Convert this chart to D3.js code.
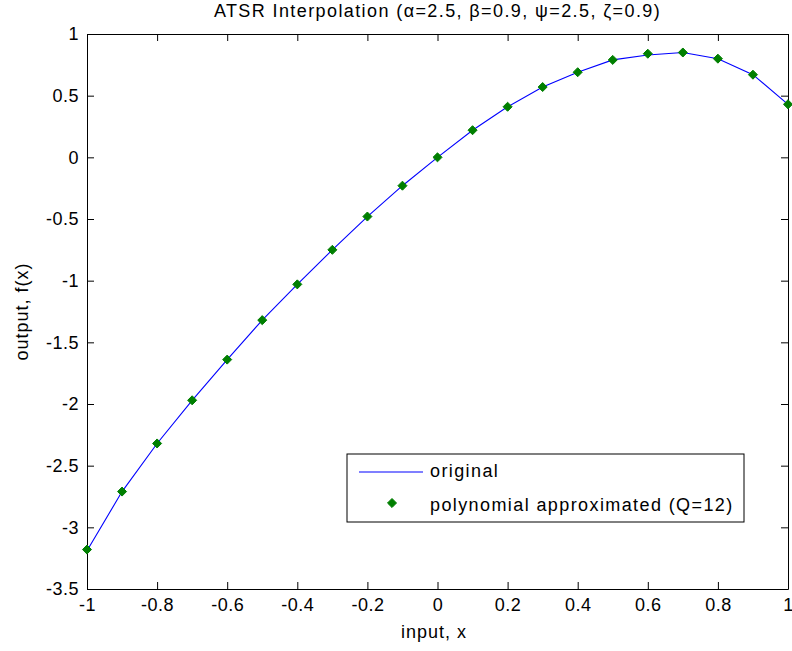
<!DOCTYPE html>
<html>
<head>
<meta charset="utf-8">
<script src="https://cdn.jsdelivr.net/npm/d3@7"></script>
<style>
  body { margin: 0; background: #fff; }
  svg text { font-family: "Liberation Sans", Arial, sans-serif; fill: #000; }
</style>
</head>
<body>
<div id="chart"></div>
<script>
// sample points
const xs = [-1, -0.9, -0.8, -0.7, -0.6, -0.5, -0.4, -0.3, -0.2, -0.1, 0,
            0.1, 0.2, 0.3, 0.4, 0.5, 0.6, 0.7, 0.8, 0.9, 1];
// original function
const original = [-3.19, -2.71, -2.32, -1.97, -1.64, -1.32, -1.03, -0.75, -0.48, -0.23, 0.0,
                  0.22, 0.41, 0.57, 0.69, 0.79, 0.83, 0.85, 0.80, 0.67, 0.43];
// polynomial approximation (Q=12)
const approx = [-3.18, -2.71, -2.32, -1.97, -1.64, -1.32, -1.03, -0.75, -0.48, -0.23, 0.0,
                0.22, 0.41, 0.57, 0.69, 0.79, 0.84, 0.85, 0.80, 0.67, 0.43];

const xTicks = [-1, -0.8, -0.6, -0.4, -0.2, 0, 0.2, 0.4, 0.6, 0.8, 1];
const yTicks = [-3.5, -3, -2.5, -2, -1.5, -1, -0.5, 0, 0.5, 1];

const width = 792, height = 651;
const margin = { left: 87, right: 4, top: 34, bottom: 62 };

const svg = d3.select("#chart").append("svg")
  .attr("width", width)
  .attr("height", height);

const x = d3.scaleLinear().domain([-1, 1]).range([margin.left, width - margin.right]);
const y = d3.scaleLinear().domain([-3.5, 1]).range([height - margin.bottom, margin.top]);

const fmt = d => String(d);

// axes, ticks pointing inward (box on all four sides)
svg.append("g")
  .attr("transform", `translate(0,${y(-3.5)})`)
  .call(d3.axisBottom(x).tickValues(xTicks).tickSizeInner(-7).tickSizeOuter(0).tickPadding(9).tickFormat(fmt));
svg.append("g")
  .attr("transform", `translate(0,${y(1)})`)
  .call(d3.axisTop(x).tickValues(xTicks).tickSizeInner(-7).tickSizeOuter(0).tickFormat(""));
svg.append("g")
  .attr("transform", `translate(${x(-1)},0)`)
  .call(d3.axisLeft(y).tickValues(yTicks).tickSizeInner(-7).tickSizeOuter(0).tickPadding(8).tickFormat(fmt));
svg.append("g")
  .attr("transform", `translate(${x(1)},0)`)
  .call(d3.axisRight(y).tickValues(yTicks).tickSizeInner(-7).tickSizeOuter(0).tickFormat(""));

svg.selectAll(".domain").attr("stroke", "#000").attr("stroke-width", 1);
svg.selectAll(".tick line").attr("stroke", "#000");
svg.selectAll(".tick text").style("font-size", "18px").style("letter-spacing", "0.5px");

// original curve
const line = d3.line().x((d, i) => x(xs[i])).y(d => y(d));
svg.append("path")
  .datum(original)
  .attr("fill", "none")
  .attr("stroke", "#0000ff")
  .attr("stroke-width", 1.1)
  .attr("d", line);

// approximation markers
const diamond = d3.symbol().type(d3.symbolDiamond2).size(52);
svg.append("g").selectAll("path")
  .data(approx)
  .enter().append("path")
  .attr("transform", (d, i) => `translate(${x(xs[i])},${y(d)})`)
  .attr("d", diamond)
  .attr("fill", "#007f00")
  .attr("stroke", "#007f00")
  .attr("stroke-width", 1);

// title and labels
svg.append("text")
  .attr("x", x(0)).attr("y", 17)
  .attr("text-anchor", "middle")
  .style("font-size", "18px")
  .style("letter-spacing", "1.4px")
  .text("ATSR Interpolation (\u03b1=2.5, \u03b2=0.9, \u03c8=2.5, \u03b6=0.9)");

svg.append("text")
  .attr("x", 434).attr("y", 638)
  .attr("text-anchor", "middle")
  .style("font-size", "18px")
  .style("letter-spacing", "1px")
  .text("input, x");

svg.append("text")
  .attr("transform", `translate(28,${y(-1.25)}) rotate(-90)`)
  .attr("text-anchor", "middle")
  .style("font-size", "18px")
  .style("letter-spacing", "1px")
  .text("output, f(x)");

// legend
const legend = svg.append("g").attr("transform", "translate(347,454)");
legend.append("rect")
  .attr("width", 397).attr("height", 68)
  .attr("fill", "#fff").attr("stroke", "#000");
legend.append("line")
  .attr("x1", 12).attr("x2", 76).attr("y1", 18).attr("y2", 18)
  .attr("stroke", "#0000ff").attr("stroke-width", 1.1);
legend.append("text").attr("x", 83).attr("y", 23)
  .style("font-size", "18px").style("letter-spacing", "1.4px").text("original");
legend.append("path")
  .attr("transform", "translate(45,49)")
  .attr("d", diamond)
  .attr("fill", "#007f00").attr("stroke", "#007f00");
legend.append("text").attr("x", 83).attr("y", 57)
  .style("font-size", "18px").style("letter-spacing", "1.4px").text("polynomial approximated (Q=12)");
</script>
</body>
</html>
